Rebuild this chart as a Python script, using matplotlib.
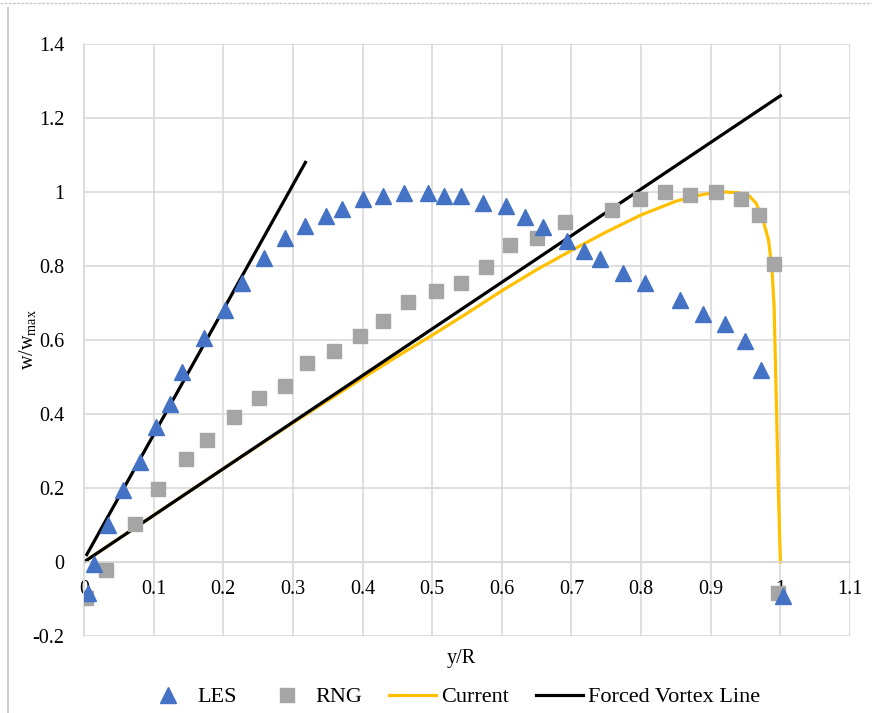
import matplotlib
matplotlib.use("Agg")
import matplotlib.pyplot as plt
from matplotlib.lines import Line2D

plt.rcParams['font.family'] = ['Liberation Serif', 'DejaVu Serif']
plt.rcParams['mathtext.fontset'] = 'custom'
plt.rcParams['mathtext.rm'] = 'Liberation Serif'
plt.rcParams['mathtext.it'] = 'Liberation Serif:italic'

# LES data
les_x = [0.006, 0.015, 0.034, 0.056, 0.081, 0.104, 0.123, 0.141, 0.173, 0.202,
         0.227, 0.258, 0.289, 0.317, 0.348, 0.371, 0.401, 0.430, 0.460, 0.494,
         0.517, 0.541, 0.573, 0.606, 0.634, 0.659, 0.693, 0.718, 0.741, 0.774,
         0.806, 0.856, 0.889, 0.920, 0.949, 0.972, 1.004]
les_y = [-0.083, -0.005, 0.100, 0.195, 0.269, 0.365, 0.428, 0.513, 0.605, 0.681,
         0.755, 0.821, 0.875, 0.908, 0.935, 0.953, 0.980, 0.989, 0.998, 0.998,
         0.989, 0.989, 0.971, 0.962, 0.933, 0.905, 0.868, 0.841, 0.820, 0.782,
         0.755, 0.708, 0.670, 0.643, 0.597, 0.520, -0.093]

# RNG data
rng_x = [0.003, 0.031, 0.073, 0.106, 0.146, 0.177, 0.216, 0.252, 0.289, 0.320,
         0.359, 0.396, 0.430, 0.465, 0.505, 0.541, 0.578, 0.612, 0.651, 0.691,
         0.758, 0.798, 0.834, 0.870, 0.907, 0.944, 0.969, 0.991, 0.996]
rng_y = [-0.096, -0.021, 0.103, 0.196, 0.278, 0.331, 0.392, 0.443, 0.475, 0.537,
         0.569, 0.610, 0.650, 0.702, 0.733, 0.754, 0.796, 0.856, 0.877, 0.919,
         0.950, 0.980, 1.000, 0.991, 1.000, 0.980, 0.939, 0.805, -0.083]

# Current model
cur_x = [0.0, 0.1, 0.2, 0.3, 0.4, 0.45, 0.5, 0.55, 0.6, 0.65, 0.7, 0.75, 0.8,
         0.85, 0.88, 0.9, 0.92, 0.94, 0.955, 0.965, 0.975, 0.983, 0.988, 0.991,
         0.994, 0.997, 1.0]
cur_y = [0.0, 0.126, 0.252, 0.376, 0.497, 0.556, 0.613, 0.672, 0.733, 0.790,
         0.842, 0.892, 0.938, 0.975, 0.990, 0.997, 1.000, 0.998, 0.990, 0.970,
         0.925, 0.870, 0.790, 0.690, 0.450, 0.200, 0.0]

# forced vortex lines
fv1_x = [0.004, 0.318]
fv1_y = [0.02, 1.08]
fv2_x = [0.0, 1.0]
fv2_y = [0.0, 1.26]

grid_c = '#d9d9d9'

fig = plt.figure(figsize=(8.72, 7.13), dpi=100)
ax = fig.add_axes([0.0963, 0.108, 0.8785, 0.8303])

ax.plot(les_x, les_y, linestyle='none', marker='^', markersize=11,
        color='#4472C4', label='LES', zorder=4)
ax.plot(rng_x, rng_y, linestyle='none', marker='s', markersize=10,
        color='#A5A5A5', label='RNG', zorder=3)
ax.plot(cur_x, cur_y, color='#FFC000', lw=2.3, label='Current', zorder=2)
ax.plot(fv1_x, fv1_y, color='black', lw=2.3, label='Forced Vortex Line', zorder=2)
ax.plot(fv2_x, fv2_y, color='black', lw=2.3, zorder=2)

ax.set_xlim(0, 1.1)
ax.set_ylim(-0.2, 1.4)
ax.set_xticks([i / 10 for i in range(12)])
ax.set_xticklabels(['0', '0.1', '0.2', '0.3', '0.4', '0.5', '0.6', '0.7',
                    '0.8', '0.9', '1', '1.1'])
ax.set_yticks([-0.2, 0, 0.2, 0.4, 0.6, 0.8, 1, 1.2, 1.4])
ax.set_yticklabels(['-0.2', '0', '0.2', '0.4', '0.6', '0.8', '1', '1.2', '1.4'])
ax.grid(True, color=grid_c, lw=1.2, zorder=0)
ax.set_axisbelow(True)

for s in ['top', 'right']:
    ax.spines[s].set_visible(False)
ax.spines['bottom'].set_position(('data', 0))
ax.spines['bottom'].set_color(grid_c)
ax.spines['left'].set_color(grid_c)
ax.spines['left'].set_linewidth(1.2)
ax.spines['bottom'].set_linewidth(1.2)
ax.tick_params(axis='both', length=0, labelsize=14.5)
ax.tick_params(axis='x', pad=13)
ax.tick_params(axis='y', pad=14)

ax.set_xlabel('y/R', fontsize=14.5)
ax.xaxis.set_label_coords(0.493, -0.022)
ax.set_ylabel(r'w/w$_{\mathrm{max}}$', fontsize=14.5)
ax.yaxis.set_label_coords(-0.06, 0.5)

leg = fig.legend(loc='center', bbox_to_anchor=(0.519, 0.0224), ncol=4,
                 frameon=False, fontsize=16, handlelength=2.1,
                 handletextpad=0.25, columnspacing=1.2)

# chart area border remnants
fig.add_artist(Line2D([8 / 872, 8 / 872], [0, 1 - 8 / 713], color='#d0d0d0', lw=1.5))
fig.add_artist(Line2D([0, 1], [1 - 3 / 713, 1 - 3 / 713], color='#c8c8c8',
                      lw=1, linestyle=(0, (2, 1))))

fig.savefig('out.png', dpi=100)
